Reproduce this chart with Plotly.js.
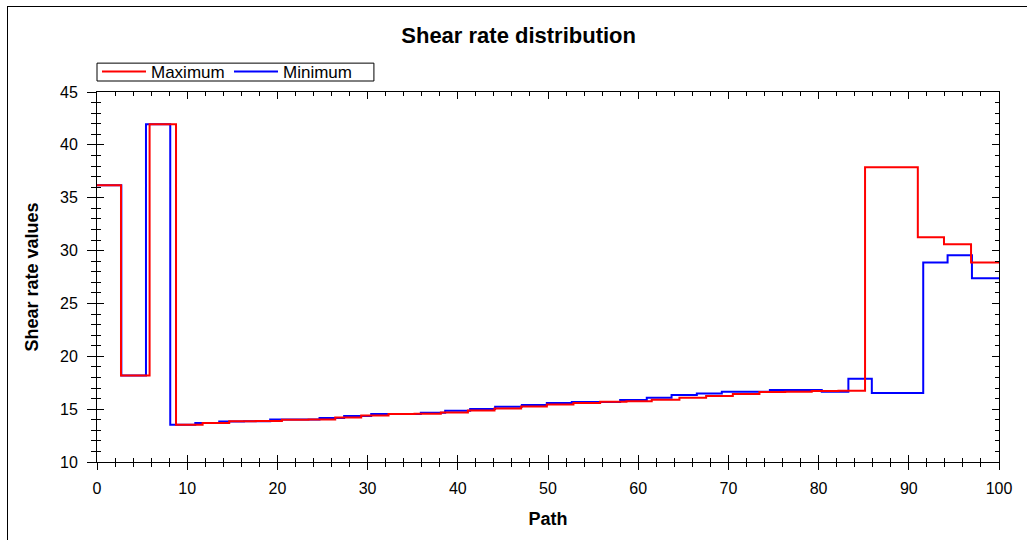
<!DOCTYPE html>
<html>
<head>
<meta charset="utf-8">
<script src="https://cdn.plot.ly/plotly-3.0.1.min.js"></script>
<style>
  html, body { margin: 0; padding: 0; background: #fff; }
  #wrap { position: relative; width: 1027px; height: 540px; }
  #chart { position: absolute; left: 0; top: 0; width: 1027px; height: 540px; }
  #frame { position: absolute; left: 7px; top: 6px; right: -2px; bottom: -2px; border-left: 1px solid #000; border-top: 1px solid #000; pointer-events: none; }
</style>
</head>
<body>
<div id="wrap"><div id="chart"></div><div id="frame"></div></div>
<script>
// Step boundaries along the path and step values
const maxEdges = [0, 2.66, 5.83, 8.76, 11.71, 14.66, 17.6, 20.5, 23.45, 26.41, 29.29, 32.32, 35.2, 38.12, 41.12, 44.07, 47.02, 49.87, 52.82, 55.78, 58.7, 61.5, 64.57, 67.53, 70.49, 73.44, 76.3, 79.24, 82.2, 85.15, 88.1, 91.0, 93.9, 96.9, 100];
const maxValues = [36.17, 18.19, 41.95, 13.53, 13.69, 13.86, 13.88, 14.0, 14.03, 14.22, 14.41, 14.55, 14.57, 14.69, 14.88, 15.07, 15.26, 15.45, 15.58, 15.7, 15.75, 15.89, 16.08, 16.24, 16.43, 16.62, 16.65, 16.72, 16.74, 37.87, 37.87, 31.25, 30.59, 28.88];

const minEdges = [0, 2.7, 5.43, 8.12, 10.9, 13.55, 16.3, 19.2, 21.9, 24.67, 27.4, 30.4, 33.1, 35.9, 38.6, 41.37, 44.14, 47.1, 49.87, 52.64, 55.4, 58.0, 60.95, 63.7, 66.5, 69.27, 72.0, 74.6, 77.4, 80.35, 83.3, 85.9, 88.7, 91.6, 94.3, 97.0, 100];
const minValues = [36.17, 18.19, 41.95, 13.53, 13.69, 13.84, 13.86, 14.03, 14.02, 14.16, 14.35, 14.54, 14.55, 14.66, 14.85, 15.01, 15.23, 15.39, 15.58, 15.68, 15.68, 15.86, 16.08, 16.33, 16.49, 16.65, 16.64, 16.81, 16.81, 16.65, 17.88, 16.53, 16.53, 28.88, 29.55, 27.37];

const seriesNames = ["Maximum", "Minimum"];
const xTicks = [0, 10, 20, 30, 40, 50, 60, 70, 80, 90, 100];
const yTicks = [10, 15, 20, 25, 30, 35, 40, 45];

function stepY(vals) { return vals.concat([vals[vals.length - 1]]); }

const FONT = "Liberation Sans, Arial, sans-serif";

const traces = [
  { x: [0], y: [10], xaxis: "x2", yaxis: "y2", type: "scatter", mode: "markers",
    marker: { opacity: 0 }, showlegend: false, hoverinfo: "skip" },
  { x: minEdges, y: stepY(minValues), name: seriesNames[1], type: "scatter", mode: "lines",
    line: { shape: "hv", color: "#0000ff", width: 2 }, legendrank: 2 },
  { x: maxEdges, y: stepY(maxValues), name: seriesNames[0], type: "scatter", mode: "lines",
    line: { shape: "hv", color: "#ff0000", width: 2 }, legendrank: 1 }
];

const xr = [0, 100], yr = [10, 45];

const layout = {
  width: 1027, height: 540,
  margin: { l: 97, r: 28, t: 92, b: 78 },
  paper_bgcolor: "rgba(0,0,0,0)", plot_bgcolor: "#fff",
  font: { family: FONT, color: "#000", size: 16 },
  title: { text: "<b>Shear rate distribution</b>", font: { family: FONT, size: 22, color: "#000" },
           x: 0.505, xref: "container", y: 0.935, yref: "container", xanchor: "center", yanchor: "middle" },
  showlegend: true,
  legend: { orientation: "h", x: 0, xanchor: "left", y: 1.054, yanchor: "middle",
            borderwidth: 0, bgcolor: "rgba(0,0,0,0)",
            font: { family: FONT, size: 17, color: "#000" },
            itemwidth: 44, entrywidth: 73, tracegroupgap: 0 },
  shapes: [
    { type: "rect", xref: "paper", yref: "paper", x0: 0, x1: 0.307, y0: 1.0297, y1: 1.078,
      line: { color: "#000", width: 1 }, fillcolor: "rgba(0,0,0,0)", layer: "below" }
  ],
  xaxis: { range: xr, tickvals: xTicks, ticktext: xTicks.map(String),
           ticks: "outside", ticklen: 7, tickwidth: 1, tickcolor: "#000", ticklabelstandoff: 5,
           minor: { dtick: 2, tick0: 0, ticks: "outside", ticklen: 4, tickcolor: "#000", showgrid: false },
           showline: true, linecolor: "#000", linewidth: 1, showgrid: false, zeroline: false,
           tickfont: { family: FONT, size: 16, color: "#000" },
           title: { text: "<b>Path</b>", font: { family: FONT, size: 18, color: "#000" }, standoff: 16 } },
  yaxis: { range: yr, tickvals: yTicks, ticktext: yTicks.map(String),
           ticks: "outside", ticklen: 9, tickwidth: 1, tickcolor: "#000", ticklabelstandoff: 6,
           minor: { dtick: 1, tick0: 10, ticks: "outside", ticklen: 5, tickcolor: "#000", showgrid: false },
           showline: true, linecolor: "#000", linewidth: 1, showgrid: false, zeroline: false,
           tickfont: { family: FONT, size: 16, color: "#000" },
           title: { text: "<b>Shear rate values</b>", font: { family: FONT, size: 18, color: "#000" }, standoff: 16 } },
  xaxis2: { overlaying: "x", anchor: "y", side: "bottom", range: xr, tickvals: xTicks,
            ticks: "inside", ticklen: 7, tickcolor: "#000", mirror: "ticks",
            minor: { dtick: 2, tick0: 0, ticks: "inside", ticklen: 4, tickcolor: "#000", showgrid: false },
            showline: true, linecolor: "#000", showgrid: false, zeroline: false, showticklabels: false },
  yaxis2: { overlaying: "y", anchor: "x", side: "left", range: yr, tickvals: yTicks,
            ticks: "inside", ticklen: 7, tickcolor: "#000", mirror: "ticks",
            minor: { dtick: 1, tick0: 10, ticks: "inside", ticklen: 4, tickcolor: "#000", showgrid: false },
            showline: true, linecolor: "#000", showgrid: false, zeroline: false, showticklabels: false }
};

Plotly.newPlot("chart", traces, layout, { displayModeBar: false, staticPlot: true });
</script>
</body>
</html>
